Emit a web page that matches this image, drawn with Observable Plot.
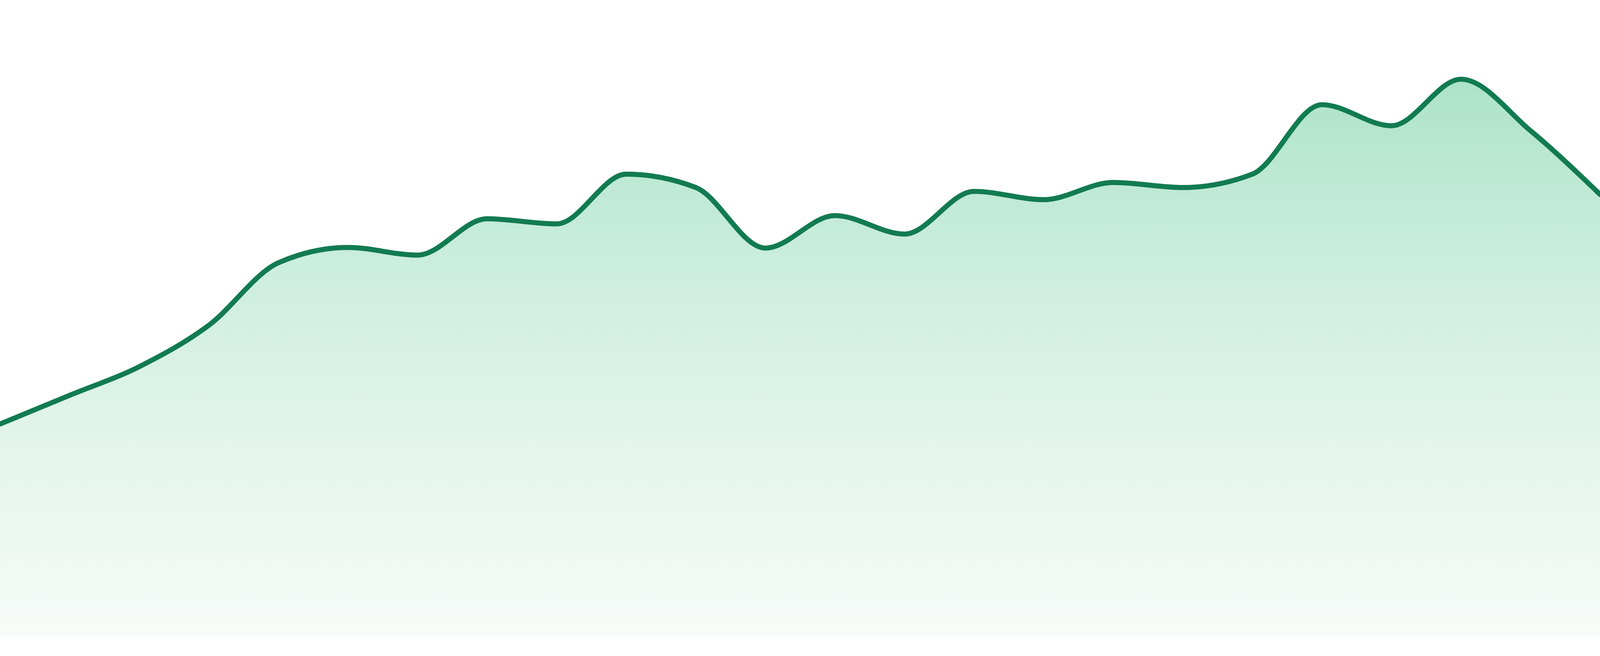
<!DOCTYPE html>
<html>
<head>
<meta charset="utf-8">
<script src="https://cdn.jsdelivr.net/npm/d3@7"></script>
<script src="https://cdn.jsdelivr.net/npm/@observablehq/plot@0.6"></script>
<style>
  html, body { margin: 0; padding: 0; background: #ffffff; overflow: hidden; }
  #chart svg { display: block; max-width: none; }
</style>
</head>
<body>
<div id="chart"></div>
<script>
// Data (24 evenly spaced samples, arbitrary units 0–100)
const steps = [0,1,2,3,4,5,6,7,8,9,10,11,12,13,14,15,16,17,18,19,20,21,22,23];
const values = [33.5, 38.0, 42.5, 49.0, 58.8, 61.2, 60.0, 65.7, 64.9, 72.7, 70.6, 61.1,
                66.2, 63.3, 70.0, 68.7, 71.4, 70.6, 72.7, 83.6, 80.3, 87.6, 79.5, 69.5];

const lineColor = "#127b51";
const gradientStops = [
  {offset: "0%",   color: "#ade3ca"},
  {offset: "35%",  color: "#cdeedf"},
  {offset: "63%",  color: "#e1f4eb"},
  {offset: "89%",  color: "#f1f9f5"},
  {offset: "100%", color: "#f8fcfa"}
];

const data = steps.map((s, i) => ({step: s, value: values[i]}));

function gradientDefs() {
  const ns = "http://www.w3.org/2000/svg";
  const defs = document.createElementNS(ns, "defs");
  const lg = document.createElementNS(ns, "linearGradient");
  lg.setAttribute("id", "areaGrad");
  lg.setAttribute("x1", "0"); lg.setAttribute("y1", "0");
  lg.setAttribute("x2", "0"); lg.setAttribute("y2", "1");
  for (const s of gradientStops) {
    const st = document.createElementNS(ns, "stop");
    st.setAttribute("offset", s.offset);
    st.setAttribute("stop-color", s.color);
    lg.appendChild(st);
  }
  defs.appendChild(lg);
  return defs;
}

// Fit the drawing to the actual viewport (design size 4800×1680)
const W = document.documentElement.clientWidth || window.innerWidth || 4800;
const H = document.documentElement.clientHeight || window.innerHeight || 1680;
const kx = W / 4800, ky = H / 1680;

const chart = Plot.plot({
  width: W,
  height: H,
  marginTop: 0,
  marginRight: 0,
  marginBottom: 48 * ky,
  marginLeft: 0,
  style: {background: "#ffffff"},
  x: {domain: [0, 23], axis: null},
  y: {domain: [0, 100], axis: null},
  marks: [
    gradientDefs,
    Plot.areaY(data, {x: "step", y: "value", curve: "monotone-x", fill: "url(#areaGrad)"}),
    Plot.lineY(data, {x: "step", y: "value", curve: "monotone-x", stroke: lineColor, strokeWidth: 14 * Math.sqrt(kx * ky)})
  ]
});
document.getElementById("chart").appendChild(chart);
</script>
</body>
</html>
